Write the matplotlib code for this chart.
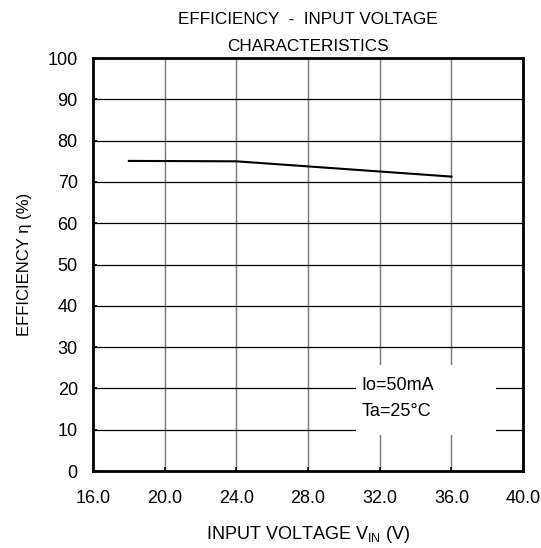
import matplotlib
matplotlib.use("Agg")
import matplotlib.pyplot as plt

# data
vin = [18.0, 24.0, 36.0]
eff = [75.1, 75.0, 71.3]
x_ticks = [16, 20, 24, 28, 32, 36, 40]
y_ticks = [0, 10, 20, 30, 40, 50, 60, 70, 80, 90, 100]

plt.rcParams['font.family'] = ['Liberation Sans', 'DejaVu Sans']
plt.rcParams['mathtext.fontset'] = 'custom'
plt.rcParams['mathtext.rm'] = 'Liberation Sans'

fig = plt.figure(figsize=(5.41, 5.48), dpi=100)
ax = fig.add_axes([0.172, 0.1405, 0.795, 0.7535])

ax.set_xlim(16, 40)
ax.set_ylim(0, 100)
ax.set_xticks(x_ticks)
ax.set_xticklabels([f"{v:.1f}" for v in x_ticks])
ax.set_yticks(y_ticks)
ax.tick_params(axis='both', labelsize=13, direction='in', length=3, width=1.2)
ax.tick_params(axis='x', pad=14)
ax.tick_params(axis='y', pad=11)

ax.grid(axis='x', color='#777777', linewidth=1.0, zorder=0)
ax.grid(axis='y', color='black', linewidth=0.9, zorder=0)
for s in ax.spines.values():
    s.set_linewidth(2.0)

ax.plot(vin, eff, color='black', linewidth=1.5, zorder=3)

# white label box covering the grid
ax.add_patch(plt.Rectangle((30.7, 8.7), 7.8, 17.0, facecolor='white',
                           edgecolor='none', zorder=2))
ax.text(31.0, 20.8, "Io=50mA", fontsize=13, va='center', zorder=4)
ax.text(31.0, 14.4, "Ta=25°C", fontsize=13, va='center', zorder=4)

ax.set_title("EFFICIENCY  -  INPUT VOLTAGE\nCHARACTERISTICS", fontsize=12.3,
             linespacing=2.0, pad=5)
ax.set_xlabel(r"INPUT VOLTAGE V$_{\mathregular{IN}}$ (V)", fontsize=13, labelpad=12)
ax.set_ylabel("EFFICIENCY η (%)", fontsize=12, labelpad=11)

fig.savefig("out.png", dpi=100)
